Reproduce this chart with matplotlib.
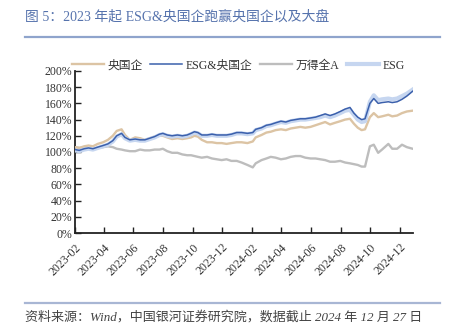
import matplotlib
matplotlib.use("Agg")
import matplotlib.pyplot as plt
import matplotlib.dates as mdates
import pandas as pd

plt.rcParams['font.family'] = ['Liberation Serif', 'Noto Sans CJK SC', 'DejaVu Sans']

dates = [
    '2023-02-01', '2023-02-10', '2023-02-20', '2023-03-01', '2023-03-10', '2023-03-20',
    '2023-03-31', '2023-04-10', '2023-04-20', '2023-04-28', '2023-05-08', '2023-05-15',
    '2023-05-25', '2023-06-05', '2023-06-15', '2023-06-25', '2023-07-05', '2023-07-15',
    '2023-07-25', '2023-08-01', '2023-08-10', '2023-08-20', '2023-08-31', '2023-09-10',
    '2023-09-20', '2023-09-28', '2023-10-05', '2023-10-12', '2023-10-20', '2023-10-31',
    '2023-11-10', '2023-11-20', '2023-11-30', '2023-12-10', '2023-12-20', '2023-12-31',
    '2024-01-10', '2024-01-22', '2024-02-02', '2024-02-08', '2024-02-20', '2024-03-01',
    '2024-03-10', '2024-03-20', '2024-03-31', '2024-04-10', '2024-04-20', '2024-04-30',
    '2024-05-10', '2024-05-20', '2024-05-31', '2024-06-10', '2024-06-20', '2024-06-30',
    '2024-07-10', '2024-07-20', '2024-07-31', '2024-08-10', '2024-08-20', '2024-08-28',
    '2024-09-05', '2024-09-13', '2024-09-20', '2024-09-30', '2024-10-08', '2024-10-17',
    '2024-10-25', '2024-11-07', '2024-11-15', '2024-11-25', '2024-12-05', '2024-12-15',
    '2024-12-27',
]

# 央国企
soe = [106, 105, 107, 108, 107, 110, 112, 115, 120, 126, 128, 121,
       115, 118, 117, 115, 117, 119, 120, 120, 118, 116, 117, 116,
       117, 118, 120, 119, 115, 112, 112, 111, 111, 110, 111, 112,
       112, 111, 113, 118, 121, 124, 125, 127, 128, 127, 129, 130,
       131, 130, 131, 133, 135, 137, 134, 136, 138, 140, 141, 135,
       130, 127, 128, 143, 148, 143, 144, 146, 144, 145, 148, 150,
       151]

# ESG&央国企
esg_soe = [103, 102, 104, 105, 104, 106, 108, 110, 114, 120, 123, 118,
           115, 116, 115, 115, 117, 119, 122, 123, 121, 120, 121, 120,
           121, 123, 125, 124, 121, 121, 122, 121, 121, 121, 122, 124,
           124, 123, 124, 128, 130, 133, 134, 136, 138, 137, 139, 140,
           141, 141, 142, 143, 145, 147, 145, 147, 150, 153, 155, 148,
           143, 140, 141, 160, 166, 160, 161, 162, 161, 162, 165, 169,
           175]

# 万得全A
wind_a = [106, 105, 106, 105, 104, 105, 106, 107, 106, 104, 103, 102,
          101, 101, 103, 102, 102, 103, 103, 104, 101, 99, 99, 97,
          96, 96, 95, 94, 93, 94, 92, 91, 90, 91, 89, 89,
          87, 84, 81, 86, 90, 92, 94, 93, 91, 92, 94, 95,
          95, 93, 92, 92, 91, 90, 88, 88, 89, 87, 86, 85,
          84, 82, 82, 107, 109, 99, 103, 110, 104, 104, 109, 106,
          104]

# ESG
esg = [102, 101, 103, 104, 103, 105, 107, 109, 113, 119, 122, 117,
       114, 115, 114, 114, 116, 118, 121, 122, 120, 119, 120, 119,
       120, 122, 124, 123, 120, 120, 121, 120, 120, 120, 121, 123,
       123, 122, 123, 127, 129, 132, 133, 135, 137, 136, 138, 139,
       140, 140, 141, 142, 143, 145, 143, 145, 148, 151, 152, 146,
       140, 137, 138, 162, 170, 164, 165, 166, 165, 166, 169, 172,
       177]

tick_months = pd.date_range('2023-02-01', '2024-12-01', freq='2MS')
y_ticks = list(range(0, 201, 20))

x = pd.to_datetime(dates)

fig = plt.figure(figsize=(4.54, 3.28), dpi=100)
ax = fig.add_axes([0.165, 0.2896, 0.745, 0.494])

ax.plot(x, wind_a, color='#bdbdbd', lw=1.7, label='万得全A', zorder=2)
ax.plot(x, soe, color='#dcc4a4', lw=1.7, label='央国企', zorder=3)
ax.plot(x, esg, color='#c6d6f0', lw=3.0, label='ESG', zorder=4)
ax.plot(x, esg_soe, color='#3b60ac', lw=1.1, label='ESG&央国企', zorder=5)

ax.set_ylim(0, 200)
ax.set_yticks(y_ticks)
ax.set_yticklabels([f'{v}%' for v in y_ticks])
ax.set_xlim(pd.Timestamp('2023-02-01'), pd.Timestamp('2024-12-28'))
ax.set_xticks(tick_months)
ax.xaxis.set_major_formatter(mdates.DateFormatter('%Y-%m'))
for label in ax.xaxis.get_ticklabels():
    label.set_rotation(45)
    label.set_ha('right')
    label.set_rotation_mode('anchor')

ax.tick_params(direction='in', length=4, width=1, colors='#222222',
               labelsize=8.5, labelcolor='#333333')
ax.tick_params(axis='x', pad=6)
ax.tick_params(axis='y', pad=2)
for side in ['top', 'right']:
    ax.spines[side].set_visible(False)
for side in ['left', 'bottom']:
    ax.spines[side].set_linewidth(1.3)
    ax.spines[side].set_color('#222222')

handles, labels = ax.get_legend_handles_labels()
order = [1, 3, 0, 2]
fig.legend([handles[i] for i in order], [labels[i] for i in order],
           loc='center', bbox_to_anchor=(0.525, 0.8), ncol=4, frameon=False,
           fontsize=8.5, handlelength=2.7, handletextpad=0.35, columnspacing=0.6,
           labelcolor='#333333')

# title and source, each with a rule
fig.text(0.055, 0.948, '图 5：2023 年起 ESG&央国企跑赢央国企以及大盘',
         fontsize=10, color='#5673ad', va='center')
fig.add_artist(plt.Line2D([0.055, 0.97], [0.887, 0.887], color='#8fa4cc', lw=1.6))
fig.add_artist(plt.Line2D([0.055, 0.97], [0.077, 0.077], color='#a8b6d4', lw=1.6))
fig.text(0.055, 0.033, '资料来源：Wind，中国银河证券研究院，数据截止 2024 年 12 月 27 日',
         fontsize=9.4, color='#444444', style='italic', va='center')

fig.savefig('out.png', dpi=100, facecolor='white')
